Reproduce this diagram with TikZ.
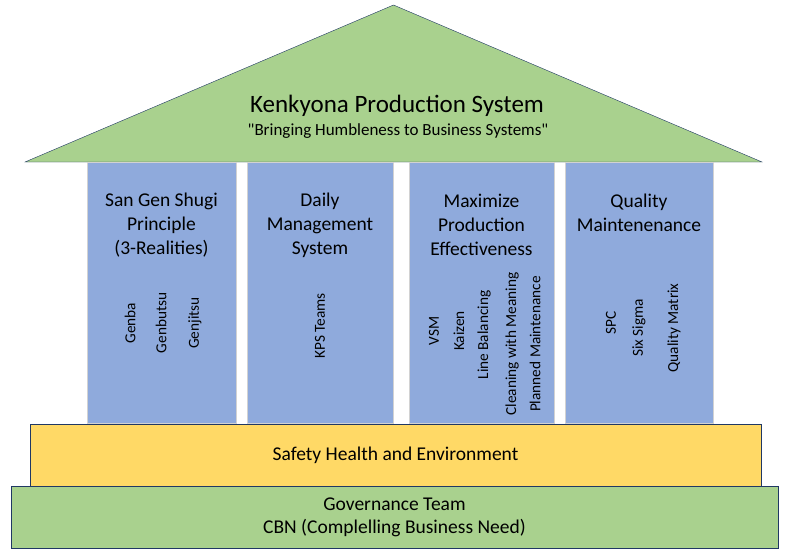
\documentclass[tikz,border=0pt]{standalone}
\usepackage{fontspec}
\setmainfont{Carlito}
\usepackage{xcolor}
\usetikzlibrary{positioning}

\definecolor{roofgreen}{HTML}{A9D18E}
\definecolor{pillarblue}{HTML}{8FAADC}
\definecolor{sheyellow}{HTML}{FFD966}
\definecolor{edgeblue}{HTML}{203864}

\begin{document}
\begin{tikzpicture}[x=1pt, y=-1pt,
        pillar/.style={rectangle, fill=pillarblue, draw=gray!35, minimum width=147pt, minimum height=261pt, inner sep=0pt},
        ptitle/.style={align=center, font=\fontsize{19.5}{24}\selectfont},
        tool/.style={rotate=90, font=\fontsize{15.3}{16}\selectfont, inner sep=0pt},
        band/.style={rectangle, draw=edgeblue, fill=#1, align=center, inner sep=0pt, font=\fontsize{19.5}{23}\selectfont}
    ]
        \useasboundingbox (0,0) rectangle (804,558);
        \fill[white] (0,0) rectangle (804,558);

        % Roof
        \draw[fill=roofgreen, draw=edgeblue] (25,162) -- (393.5,5) -- (762,162) -- cycle;
        \node[font=\fontsize{25}{30}\selectfont] (kps) at (397,105.5) {Kenkyona Production System};
        \node[font=\fontsize{17}{20}\selectfont] (motto) at (398,131) {\textquotedbl Bringing Humbleness to Business Systems\textquotedbl};

        % Pillars
        \node[pillar, minimum width=149pt] (sangen) at (161.5,293) {};
        \node[pillar, minimum width=146pt] (daily) at (320,293) {};
        \node[pillar, minimum width=145pt] (mpe) at (481.5,293) {};
        \node[pillar, minimum width=148pt] (qm) at (639,293) {};

        \node[ptitle] (sangentitle) at (161.5,225) {San Gen Shugi\\Principle\\(3-Realities)};
        \node[ptitle] (dailytitle) at (320,225) {Daily\\Management\\System};
        \node[ptitle] (mpetitle) at (481.5,225) {Maximize\\Production\\Effectiveness};
        \node[ptitle] (qmtitle) at (639,213) {Quality\\Maintenenance};

        % Tools in the pillars
        \node[tool] (genba) at (130,323) {Genba};
        \node[tool] (genbutsu) at (161,323) {Genbutsu};
        \node[tool] (genjitsu) at (195,323) {Genjitsu};

        \node[tool] (kpsteams) at (320,326) {KPS Teams};

        \node[tool] (vsm) at (434,331) {VSM};
        \node[tool] (kaizen) at (459,331) {Kaizen};
        \node[tool] (linebal) at (484,335) {Line Balancing};
        \node[tool] (cleaning) at (512,344) {Cleaning with Meaning};
        \node[tool] (planned) at (535,344) {Planned Maintenance};

        \node[tool] (spc) at (611,323) {SPC};
        \node[tool] (sixsigma) at (639,328) {Six Sigma};
        \node[tool] (qmatrix) at (674,328) {Quality Matrix};

        % Foundation
        \node[band=sheyellow, minimum width=731pt, minimum height=62pt] (she) at (395.5,455) {Safety Health and Environment};
        \node[band=roofgreen, minimum width=767pt, minimum height=62pt] (gov) at (394.5,517) {Governance Team\\CBN (Complelling Business Need)};
    \end{tikzpicture}
\end{document}
